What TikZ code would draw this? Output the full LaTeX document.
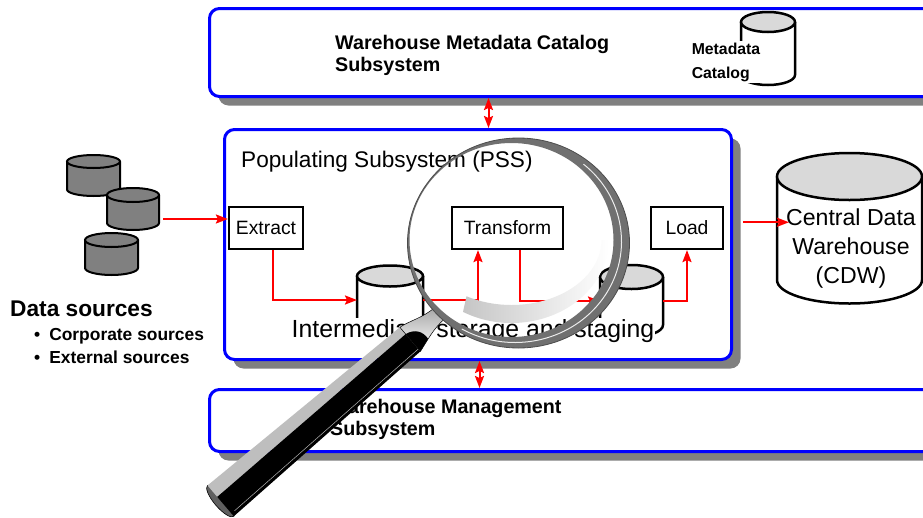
\documentclass[tikz,border=0pt]{standalone}
\usepackage{fontspec}
\setmainfont{Liberation Sans}
\usepackage{tikz}
\usetikzlibrary{positioning}
\usetikzlibrary{arrows.meta}
\usetikzlibrary{shadows}
\definecolor{frameblue}{RGB}{0,0,255}
\definecolor{shadowgray}{RGB}{128,128,128}
\definecolor{lidgray}{RGB}{217,217,217}
\definecolor{sourcegray}{RGB}{128,128,128}
\definecolor{rodgray}{RGB}{190,190,190}
\definecolor{capgray}{RGB}{95,95,95}
\definecolor{rimgray}{RGB}{112,112,112}
\tikzset{x=1pt, y=-1pt, % one unit is one pixel, y runs downwards
subsystem/.style=
    { % Sets the properties for the three big frames
        draw=frameblue,
        line width=3pt,
        rounded corners=10pt,
        fill=white,
        anchor=north west,
        drop shadow={shadow xshift=9pt, shadow yshift=-9pt, fill=shadowgray, opacity=1}
    },
    task/.style={ % Extract, Transform, Load
        draw,
        line width=2.2pt,
        fill=white,
        minimum height=42pt,
        inner sep=0pt,
        font=\fontsize{19.3}{23}\selectfont
    },
    title/.style={anchor=west, align=left, inner sep=0pt,
        font=\fontsize{19.7}{22}\selectfont\bfseries},
    flow/.style={draw=red, line width=2pt, ->}, % red data flows
    >={Stealth[length=12pt, width=9pt, inset=2pt]}
}
% upright cylinder: name, centre x, lid y, half width, lid half height,
% side length, body fill, lid fill, line width
\newcommand{\datastore}[9]{%
    \filldraw[fill=#7, line width=#9] (#2-#4,#3) -- (#2-#4,#3+#6)
        arc[start angle=180, end angle=0, x radius=#4, y radius=#5] -- (#2+#4,#3);
    \filldraw[fill=#8, line width=#9] (#2,#3) ellipse [x radius=#4, y radius=#5];
    \node[inner sep=0pt, outer sep=0pt, minimum width=2pt*#4, minimum height=1pt*#6] (#1) at (#2,#3+#6/2) {};
}

\begin{document}
\begin{tikzpicture}
\useasboundingbox (0,0) rectangle (923,517);
\clip (0,0) rectangle (923,517);
\fill[white] (0,0) rectangle (923,517);

% subsystem frames
\node[subsystem, minimum width=727pt, minimum height=88pt]  (mcs) at (208,7) {};
\node[subsystem, minimum width=507pt, minimum height=230pt] (pss) at (223,128) {};
\node[subsystem, minimum width=727pt, minimum height=62pt]  (wms) at (208,388) {};

\node[title] (mcstitle) at (335,55) {Warehouse Metadata Catalog\\Subsystem};
\node[title] (wmstitle) at (330,419.5) {Warehouse Management\\Subsystem};
\node[anchor=west, inner sep=0pt, font=\fontsize{22.6}{26}\selectfont] (psstitle) at (241,162) {Populating Subsystem (PSS)};

\node[task, minimum width=74pt]  (extract)   at (266,228)   {Extract};
\node[task, minimum width=111pt] (transform) at (507.5,228) {Transform};
\node[task, minimum width=72pt]  (load)      at (687,228)   {Load};

% staging stores, their lower part sits behind the label
\datastore{store1}{390}{276}{33}{10.5}{48}{white}{lidgray}{2.5pt}
\datastore{store2}{631.5}{277}{31.5}{12}{48}{white}{lidgray}{2.5pt}
\node[fill=white, inner sep=1pt, font=\fontsize{24.8}{28}\selectfont] (staging) at (473,331) {Intermediate storage and staging};

\datastore{catalog}{768}{22}{27}{10}{53}{white}{lidgray}{2.5pt}
\node[fill=white, align=left, inner sep=1.5pt, font=\fontsize{15.8}{24}\selectfont\bfseries] (catalogtext) at (726,62) {Metadata\\Catalog};

\datastore{cdw}{849.5}{176.5}{72.5}{23.5}{103.5}{white}{lidgray}{2.5pt}
\node[align=center, inner sep=0pt, font=\fontsize{23.1}{29}\selectfont] (cdwtext) at (851,249) {Central Data\\Warehouse\\(CDW)};

% data sources
\datastore{srcA}{93.5}{161.5}{26.5}{6.5}{28}{sourcegray}{sourcegray}{2pt}
\datastore{srcB}{133}{195}{26}{7}{28}{sourcegray}{sourcegray}{2pt}
\datastore{srcC}{111.5}{240}{26.5}{7}{28}{sourcegray}{sourcegray}{2pt}
\node[anchor=west, inner sep=0pt, font=\fontsize{22.7}{26}\selectfont\bfseries] (dstitle) at (10,309) {Data sources};
\node[anchor=west, align=left, inner sep=0pt, font=\fontsize{17.4}{23}\selectfont\bfseries] (dslist) at (34,346.5)
    {\textbullet\hspace{9pt}Corporate sources\\\textbullet\hspace{9pt}External sources};

%%%%%%%%%%%%%%%%%%%%%%%%%%%%%%%%%%
\coordinate (srcout) at ([xshift=4pt,yshift=-10pt]srcB.east);
\draw[flow] (srcout) -- (srcout -| extract.west);
\draw[flow] ([xshift=7pt]extract.south) |- (store1.west);
\draw[flow] (store1.east) -| ([xshift=-29.5pt]transform.south);
\draw[flow] ([xshift=12.5pt]transform.south) |- (store2.west);
\draw[flow] (store2.east) -| (load.south);

\coordinate (cdwin) at ([xshift=12pt,yshift=6pt]cdw.west);
\path (pss.east |- cdwin) ++(10,0) coordinate (pssout);
\draw[flow] (pssout) -- (cdwin);

\coordinate (uplink) at ([xshift=10.5pt]pss.north);
\draw[flow, <->] (uplink) -- (uplink |- mcs.south);
\coordinate (downlink) at ([xshift=1.5pt]pss.south);
\draw[flow, <->] (downlink) -- (downlink |- wms.north);

%%%%%%%%%%%%%%%%%%%%%%%%%%%%%%%%%% magnifying glass
\begin{scope}[shift={(220.7,500.9)}, rotate=40.5]
    \draw[fill=capgray, line width=0.6pt] (0,0) ellipse [x radius=6.5, y radius=20.3];
    \fill[rodgray] (0,-20.3) -- (249,-15.7) -- (249,-6.7) -- (0,-5.3) -- cycle;
    \fill[black] (0,-5.3) -- (249,-6.7) -- (249,16) -- (0,20.2) -- cycle;
    \draw[gray!60, line width=0.5pt] (4,16.5) -- (249,12.8);
    % ferrule
    \shade[top color=gray!70, bottom color=white, draw=black, line width=0.5pt]
        (249,-15.7) .. controls (262,-14) and (272,-8) .. (289,-8) -- (289,7)
        .. controls (274,7) and (262,12) .. (249,16) -- cycle;
    \fill[black] (249,-6.7) .. controls (259,-5) and (264,2) .. (263,11.5) -- (249,16) -- cycle;
\end{scope}

% rim, thin at the upper left and heavy towards the lower right
\fill[rimgray, even odd rule] (518.5,243) ellipse [x radius=111, y radius=105]
    (511.5,240) ellipse [x radius=102, y radius=97];
\draw[black!70, line width=0.8pt] (518.5,243) ellipse [x radius=111, y radius=105];
\begin{scope}[shift={(515,241.5)}]
    \draw[white!85!gray, line width=1pt] (-50:106.5 and 101) arc[start angle=-50, end angle=120, x radius=106.5, y radius=101];
\end{scope}
% glint on the glass
\begin{scope}[shift={(511.5,240)}]
    \shade[left color=gray!45, right color=white]
        (120:97 and 83) arc[start angle=120, end angle=0, x radius=97, y radius=83]
        -- (0:90 and 65) arc[start angle=0, end angle=120, x radius=90, y radius=65] -- cycle;
\end{scope}
\end{tikzpicture}
\end{document}
